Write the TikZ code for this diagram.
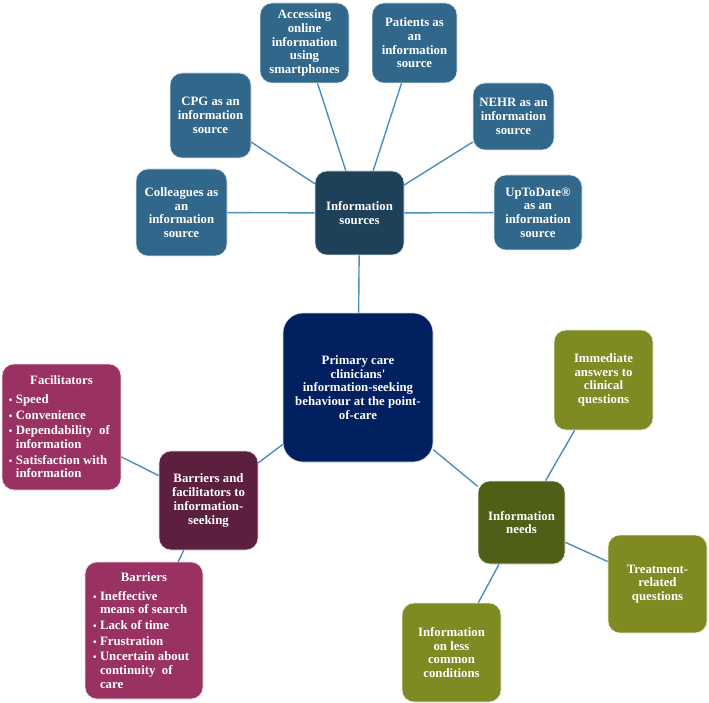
\documentclass[tikz,border=0pt]{standalone}
\usepackage{fontspec}
\setmainfont{Liberation Serif}
\definecolor{srcblue}{HTML}{31678A}
\definecolor{srcdark}{HTML}{1F4059}
\definecolor{navy}{HTML}{002060}
\definecolor{maroon}{HTML}{5C1F40}
\definecolor{berry}{HTML}{993263}
\definecolor{olivedark}{HTML}{4F5F17}
\definecolor{olivebox}{HTML}{7F8A22}
\definecolor{linkblue}{HTML}{4A90BA}
\newcommand{\bul}{\makebox[7pt][l]{\fontsize{10}{10}\selectfont •}}
\begin{document}
\begin{tikzpicture}[x=1pt,y=-1pt,
  box/.style={fill=#1, rounded corners=12pt, text=white, align=center,
    font=\fontsize{12.8}{13.7}\selectfont\bfseries, inner sep=0pt, draw=white!85!#1, line width=0.6pt},
  link/.style={draw=linkblue, line width=1.4pt}]
\useasboundingbox (0,0) rectangle (709,703);
% nodes
\node[box=srcdark, minimum width=89, minimum height=84] (isrc) at (359.5,213) {Information\\sources};
\node[box=srcblue, minimum width=89, minimum height=80] (acc) at (304.5,43) {Accessing\\online\\information\\using\\smartphones};
\node[box=srcblue, minimum width=85, minimum height=80] (pat) at (414.5,43) {Patients as\\an\\information\\source};
\node[box=srcblue, minimum width=81, minimum height=85] (cpg) at (210.5,115.5) {CPG as an\\information\\source};
\node[box=srcblue, minimum width=81, minimum height=67] (nehr) at (513.5,116.5) {NEHR as an\\information\\source};
\node[box=srcblue, minimum width=91, minimum height=87] (coll) at (181.5,212.5) {Colleagues as\\an\\information\\source};
\node[box=srcblue, minimum width=88, minimum height=75] (upto) at (538,212.5) {UpToDate®\\as an\\information\\source};
\node[box=navy, minimum width=150, minimum height=149, rounded corners=20pt] (central) at (358,387.5) {Primary care\\clinicians\textquotesingle\\information-seeking\\behaviour at the point-\\of-care};
\node[box=maroon, minimum width=99, minimum height=99] (bf) at (208.5,500.5) {Barriers and\\facilitators to\\information-\\seeking};
\node[box=berry, minimum width=119, minimum height=126, align=left] (fac) at (61.5,427) {\makebox[105pt][c]{Facilitators}\\[5pt]
\bul Speed\\[2pt]
\bul Convenience\\[2pt]
\bul Dependability\ \ of\\
\hspace*{7pt}information\\[2pt]
\bul Satisfaction with\\
\hspace*{7pt}information};
\node[box=berry, minimum width=118, minimum height=137, align=left] (bar) at (144,630.5) {\makebox[102pt][c]{Barriers}\\[5pt]
\bul Ineffective\\
\hspace*{7pt}means of search\\[2pt]
\bul Lack of time\\[2pt]
\bul Frustration\\[2pt]
\bul Uncertain about\\
\hspace*{7pt}continuity\ \ of\\
\hspace*{7pt}care};
\node[box=olivedark, minimum width=87, minimum height=83] (need) at (521.5,522.5) {Information\\needs};
\node[box=olivebox, minimum width=99, minimum height=100] (imm) at (603.5,380) {Immediate\\answers to\\clinical\\questions};
\node[box=olivebox, minimum width=99, minimum height=98] (trt) at (657.5,584) {Treatment-\\related\\questions};
\node[box=olivebox, minimum width=99, minimum height=99] (less) at (451.5,652.5) {Information\\on less\\common\\conditions};
% connectors
\draw[link] (isrc) -- (acc);
\draw[link] (isrc) -- (pat);
\draw[link] (isrc) -- (cpg);
\draw[link] (isrc) -- (nehr);
\draw[link] (isrc) -- (coll);
\draw[link] (isrc) -- (upto);
\draw[link] (isrc) -- (central);
\draw[link] (central) -- (bf);
\draw[link] (bf) -- (fac);
\draw[link] (bf) -- (bar);
\draw[link] (central) -- (need);
\draw[link] (need) -- (imm);
\draw[link] (need) -- (trt);
\draw[link] (need) -- (less);
\end{tikzpicture}
\end{document}
